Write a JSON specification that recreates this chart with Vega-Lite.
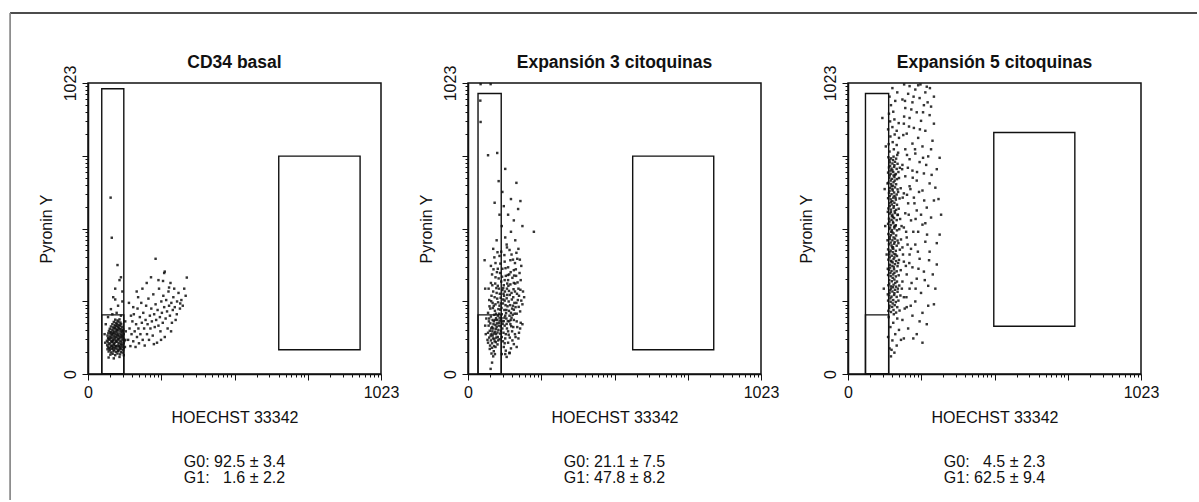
{
  "$schema": "https://vega.github.io/schema/vega-lite/v6.json",
  "padding": {"left": 8, "top": 11, "right": 0, "bottom": 0},
  "background": "white",
  "config": {
    "font": "Liberation Sans",
    "view": {"stroke": "#111", "strokeWidth": 1.5},
    "axis": {"grid": false, "domainColor": "#111", "domainWidth": 1.5, "tickColor": "#111", "tickWidth": 1, "labelFont": "Liberation Sans", "labelFontSize": 16, "labelColor": "#111", "labelPadding": 4, "titleFont": "Liberation Sans", "titleFontSize": 16, "titleFontWeight": "normal", "titleColor": "#111"}
  },
  "datasets": {
    "gates": [
      {"panel": 1, "x1": 48, "x2": 125, "y1": 0, "y2": 1003},
      {"panel": 1, "x1": 48, "x2": 125, "y1": 0, "y2": 208},
      {"panel": 1, "x1": 666, "x2": 950, "y1": 85, "y2": 766},
      {"panel": 2, "x1": 35, "x2": 116, "y1": 0, "y2": 986},
      {"panel": 2, "x1": 35, "x2": 116, "y1": 0, "y2": 208},
      {"panel": 2, "x1": 575, "x2": 858, "y1": 85, "y2": 766},
      {"panel": 3, "x1": 61, "x2": 142, "y1": 0, "y2": 986},
      {"panel": 3, "x1": 61, "x2": 142, "y1": 0, "y2": 208},
      {"panel": 3, "x1": 509, "x2": 792, "y1": 168, "y2": 849}
    ],
    "labels": [
      {"panel": 1, "title": "CD34 basal", "stats": "G0: 92.5 ± 3.4\nG1: \u20071.6 ± 2.2"},
      {"panel": 2, "title": "Expansión 3 citoquinas", "stats": "G0: 21.1 ± 7.5\nG1: 47.8 ± 8.2"},
      {"panel": 3, "title": "Expansión 5 citoquinas", "stats": "G0: \u20074.5 ± 2.3\nG1: 62.5 ± 9.4"}
    ],
    "p1": [
      {"x":78,"y":68},{"x":86,"y":71},{"x":95,"y":66},{"x":103,"y":72},{"x":112,"y":69},
      {"x":72,"y":79},{"x":81,"y":76},{"x":89,"y":80},{"x":98,"y":77},{"x":106,"y":81},{"x":115,"y":78},{"x":121,"y":75},
      {"x":68,"y":87},{"x":76,"y":85},{"x":84,"y":88},{"x":92,"y":84},{"x":100,"y":89},{"x":108,"y":86},{"x":116,"y":88},{"x":123,"y":84},
      {"x":70,"y":95},{"x":78,"y":93},{"x":87,"y":96},{"x":95,"y":92},{"x":103,"y":97},{"x":111,"y":94},{"x":119,"y":96},{"x":125,"y":92},
      {"x":67,"y":101},{"x":74,"y":104},{"x":82,"y":100},{"x":90,"y":103},{"x":98,"y":99},{"x":106,"y":104},{"x":114,"y":101},{"x":121,"y":103},
      {"x":69,"y":111},{"x":77,"y":108},{"x":85,"y":112},{"x":93,"y":109},{"x":101,"y":113},{"x":109,"y":110},{"x":117,"y":112},{"x":125,"y":108},
      {"x":66,"y":117},{"x":73,"y":120},{"x":81,"y":116},{"x":89,"y":121},{"x":97,"y":118},{"x":105,"y":121},{"x":113,"y":117},{"x":120,"y":120},{"x":127,"y":116},
      {"x":70,"y":127},{"x":78,"y":124},{"x":86,"y":128},{"x":94,"y":125},{"x":102,"y":129},{"x":110,"y":126},{"x":118,"y":128},{"x":124,"y":124},
      {"x":68,"y":135},{"x":76,"y":132},{"x":84,"y":136},{"x":92,"y":133},{"x":100,"y":137},{"x":108,"y":134},{"x":116,"y":136},{"x":122,"y":132},
      {"x":71,"y":143},{"x":79,"y":140},{"x":87,"y":144},{"x":95,"y":141},{"x":103,"y":145},{"x":111,"y":142},{"x":119,"y":144},{"x":125,"y":140},
      {"x":73,"y":151},{"x":81,"y":148},{"x":89,"y":152},{"x":97,"y":149},{"x":105,"y":153},{"x":113,"y":150},{"x":121,"y":152},
      {"x":76,"y":159},{"x":84,"y":156},{"x":92,"y":160},{"x":100,"y":157},{"x":108,"y":161},{"x":116,"y":158},{"x":123,"y":156},
      {"x":80,"y":167},{"x":88,"y":164},{"x":96,"y":168},{"x":104,"y":165},{"x":112,"y":169},{"x":119,"y":166},
      {"x":85,"y":175},{"x":93,"y":172},{"x":101,"y":176},{"x":109,"y":173},{"x":116,"y":176},
      {"x":90,"y":183},{"x":98,"y":180},{"x":106,"y":184},{"x":113,"y":181},
      {"x":95,"y":191},{"x":103,"y":188},{"x":110,"y":192},
      {"x":74,"y":90},{"x":82,"y":98},{"x":90,"y":106},{"x":98,"y":114},{"x":106,"y":122},{"x":114,"y":130},{"x":88,"y":118},{"x":96,"y":130},{"x":104,"y":138},{"x":80,"y":128},{"x":92,"y":146},{"x":100,"y":154},{"x":84,"y":114},{"x":108,"y":98},{"x":116,"y":106},{"x":72,"y":124},{"x":120,"y":136},{"x":86,"y":140},{"x":110,"y":158},{"x":94,"y":162},{"x":78,"y":146},{"x":102,"y":170},{"x":118,"y":150},{"x":96,"y":98},{"x":88,"y":90},{"x":104,"y":82},{"x":112,"y":90},
      {"x":60,"y":110},{"x":58,"y":140},{"x":62,"y":175},{"x":70,"y":200},{"x":85,"y":210},{"x":100,"y":215},{"x":115,"y":205},{"x":130,"y":185},{"x":132,"y":150},{"x":130,"y":120},{"x":129,"y":95},{"x":72,"y":58},{"x":90,"y":55},{"x":110,"y":60},{"x":125,"y":66},{"x":80,"y":228},{"x":105,"y":240},{"x":95,"y":262},{"x":120,"y":255},
      {"x":140,"y":120},{"x":145,"y":160},{"x":148,"y":98},{"x":152,"y":140},{"x":155,"y":185},{"x":158,"y":115},{"x":160,"y":210},{"x":163,"y":150},{"x":166,"y":95},{"x":168,"y":175},{"x":171,"y":130},{"x":173,"y":230},{"x":176,"y":160},{"x":178,"y":108},{"x":181,"y":200},{"x":183,"y":140},{"x":186,"y":250},{"x":188,"y":180},{"x":191,"y":120},{"x":193,"y":215},{"x":196,"y":160},{"x":198,"y":100},{"x":201,"y":190},{"x":203,"y":240},{"x":206,"y":140},{"x":208,"y":175},{"x":211,"y":265},{"x":213,"y":120},{"x":216,"y":205},{"x":218,"y":160},{"x":221,"y":230},{"x":223,"y":185},{"x":226,"y":135},{"x":228,"y":280},{"x":231,"y":210},{"x":233,"y":165},{"x":236,"y":245},{"x":238,"y":190},{"x":241,"y":110},{"x":243,"y":225},{"x":246,"y":170},{"x":248,"y":300},{"x":251,"y":200},{"x":253,"y":150},{"x":256,"y":255},{"x":258,"y":215},{"x":261,"y":180},{"x":263,"y":275},{"x":266,"y":235},{"x":268,"y":130},{"x":271,"y":195},{"x":273,"y":260},{"x":276,"y":220},{"x":278,"y":160},{"x":281,"y":290},{"x":283,"y":240},{"x":286,"y":205},{"x":288,"y":320},{"x":291,"y":250},{"x":293,"y":180},{"x":296,"y":225},{"x":298,"y":270},{"x":301,"y":300},{"x":303,"y":235},{"x":306,"y":190},{"x":311,"y":255},{"x":316,"y":285},{"x":321,"y":230},{"x":326,"y":260},{"x":331,"y":240},{"x":336,"y":300},{"x":341,"y":275},{"x":246,"y":330},{"x":266,"y":355},{"x":236,"y":405},{"x":262,"y":327},{"x":283,"y":304},{"x":322,"y":248},{"x":345,"y":339},{"x":268,"y":360},{"x":190,"y":300},{"x":205,"y":320},{"x":175,"y":270},{"x":220,"y":340},{"x":158,"y":235},{"x":150,"y":205},{"x":143,"y":250},{"x":170,"y":290},{"x":255,"y":120},{"x":230,"y":105},{"x":290,"y":150},{"x":310,"y":210},
      {"x":79,"y":620},{"x":83,"y":479},{"x":103,"y":383},{"x":110,"y":330},{"x":95,"y":300},{"x":120,"y":290},{"x":88,"y":270},{"x":115,"y":340}
    ],
    "p2": [
      {"x":68,"y":120},{"x":74,"y":128},{"x":80,"y":118},{"x":86,"y":135},{"x":92,"y":124},{"x":98,"y":140},{"x":104,"y":130},{"x":110,"y":122},{"x":70,"y":145},{"x":76,"y":152},{"x":82,"y":140},{"x":88,"y":160},{"x":94,"y":148},{"x":100,"y":165},{"x":106,"y":155},{"x":112,"y":142},{"x":72,"y":170},{"x":78,"y":178},{"x":84,"y":165},{"x":90,"y":185},{"x":96,"y":172},{"x":102,"y":190},{"x":108,"y":180},{"x":114,"y":168},{"x":74,"y":195},{"x":80,"y":202},{"x":86,"y":190},{"x":92,"y":208},{"x":98,"y":196},{"x":104,"y":205},{"x":110,"y":198},{"x":70,"y":110},{"x":77,"y":100},{"x":84,"y":108},{"x":91,"y":98},{"x":97,"y":112},{"x":103,"y":104},{"x":76,"y":88},{"x":84,"y":92},{"x":90,"y":80},{"x":96,"y":95},{"x":82,"y":72},{"x":88,"y":62},{"x":94,"y":70},{"x":79,"y":135},{"x":85,"y":150},{"x":91,"y":142},{"x":97,"y":158},{"x":103,"y":146},{"x":89,"y":175},{"x":95,"y":190},{"x":101,"y":178},{"x":87,"y":125},{"x":93,"y":115},{"x":99,"y":128},{"x":105,"y":118},{"x":81,"y":160},{"x":107,"y":170},{"x":73,"y":185},{"x":111,"y":188},
      {"x":118,"y":70},{"x":125,"y":95},{"x":132,"y":82},{"x":140,"y":110},{"x":150,"y":90},{"x":160,"y":105},{"x":122,"y":115},{"x":135,"y":60},{"x":145,"y":75},{"x":170,"y":95},{"x":128,"y":108},{"x":155,"y":118},
      {"x":118,"y":130},{"x":124,"y":145},{"x":130,"y":125},{"x":136,"y":160},{"x":142,"y":138},{"x":148,"y":175},{"x":154,"y":150},{"x":160,"y":190},{"x":166,"y":130},{"x":172,"y":165},{"x":178,"y":145},{"x":184,"y":180},{"x":120,"y":185},{"x":128,"y":170},{"x":134,"y":195},{"x":140,"y":150},{"x":146,"y":128},{"x":152,"y":198},{"x":158,"y":165},{"x":164,"y":140},{"x":170,"y":185},{"x":176,"y":125},{"x":182,"y":160},{"x":190,"y":175},{"x":62,"y":140},{"x":60,"y":170},{"x":64,"y":195},{"x":120,"y":160},{"x":132,"y":140},{"x":144,"y":185},
      {"x":70,"y":215},{"x":78,"y":230},{"x":86,"y":250},{"x":94,"y":222},{"x":102,"y":265},{"x":110,"y":240},{"x":118,"y":210},{"x":126,"y":275},{"x":134,"y":225},{"x":142,"y":255},{"x":150,"y":215},{"x":158,"y":270},{"x":166,"y":235},{"x":174,"y":260},{"x":182,"y":220},{"x":190,"y":245},{"x":196,"y":270},{"x":74,"y":260},{"x":82,"y":275},{"x":90,"y":240},{"x":98,"y":212},{"x":106,"y":228},{"x":114,"y":268},{"x":122,"y":248},{"x":130,"y":205},{"x":138,"y":238},{"x":146,"y":278},{"x":154,"y":230},{"x":162,"y":250},{"x":170,"y":212},{"x":178,"y":275},{"x":186,"y":258},{"x":96,"y":245},{"x":128,"y":258},{"x":160,"y":226},
      {"x":72,"y":300},{"x":80,"y":320},{"x":88,"y":290},{"x":96,"y":340},{"x":104,"y":310},{"x":112,"y":355},{"x":120,"y":295},{"x":128,"y":330},{"x":136,"y":300},{"x":144,"y":350},{"x":152,"y":285},{"x":160,"y":320},{"x":168,"y":345},{"x":176,"y":300},{"x":184,"y":330},{"x":192,"y":290},{"x":84,"y":350},{"x":100,"y":285},{"x":116,"y":325},{"x":132,"y":345},{"x":148,"y":315},{"x":164,"y":290},{"x":180,"y":355},{"x":108,"y":300},{"x":140,"y":330},{"x":124,"y":282},
      {"x":80,"y":380},{"x":92,"y":410},{"x":104,"y":370},{"x":116,"y":430},{"x":128,"y":395},{"x":140,"y":375},{"x":152,"y":420},{"x":164,"y":390},{"x":176,"y":440},{"x":120,"y":370},{"x":136,"y":445},{"x":96,"y":390},{"x":148,"y":400},{"x":110,"y":415},{"x":172,"y":405},{"x":186,"y":380},{"x":88,"y":440},{"x":160,"y":365},
      {"x":115,"y":152},{"x":121,"y":176},{"x":127,"y":198},{"x":133,"y":214},{"x":139,"y":186},{"x":145,"y":205},{"x":151,"y":168},{"x":157,"y":240},{"x":163,"y":212},{"x":169,"y":250},{"x":117,"y":232},{"x":123,"y":262},{"x":129,"y":290},{"x":135,"y":266},{"x":141,"y":310},{"x":147,"y":242},{"x":153,"y":262},{"x":159,"y":298},{"x":165,"y":318},{"x":171,"y":282},{"x":177,"y":236},{"x":183,"y":296},{"x":111,"y":282},{"x":105,"y":252},{"x":99,"y":302},{"x":93,"y":270},{"x":87,"y":232},{"x":81,"y":256},{"x":75,"y":238},{"x":119,"y":342},{"x":125,"y":312},{"x":131,"y":372},{"x":137,"y":318},{"x":143,"y":292},{"x":149,"y":358},{"x":155,"y":338},{"x":161,"y":346},{"x":167,"y":368},{"x":173,"y":322},{"x":113,"y":388},{"x":107,"y":336},{"x":101,"y":358},{"x":95,"y":318},{"x":89,"y":368},{"x":85,"y":312},{"x":109,"y":212},{"x":113,"y":226},{"x":117,"y":196},{"x":131,"y":242},{"x":137,"y":278},{"x":127,"y":225},{"x":143,"y":222},{"x":149,"y":190},{"x":156,"y":208},{"x":125,"y":186},{"x":135,"y":176},{"x":115,"y":248},{"x":123,"y":302},{"x":139,"y":348},{"x":157,"y":402},{"x":127,"y":418},{"x":145,"y":436},{"x":103,"y":428},{"x":169,"y":426},{"x":181,"y":402},
      {"x":100,"y":470},{"x":130,"y":480},{"x":150,"y":500},{"x":230,"y":500},{"x":118,"y":520},{"x":160,"y":540},{"x":140,"y":560},{"x":175,"y":580},{"x":93,"y":602},{"x":183,"y":608},{"x":107,"y":678},{"x":169,"y":672},{"x":130,"y":721},{"x":120,"y":640},{"x":150,"y":615},{"x":110,"y":560},{"x":165,"y":470},{"x":135,"y":455},{"x":190,"y":520},{"x":125,"y":590},
      {"x":44,"y":1019},{"x":79,"y":1019},{"x":43,"y":961},{"x":44,"y":886},{"x":70,"y":769},{"x":102,"y":777},{"x":60,"y":300},{"x":58,"y":400},{"x":79,"y":18},{"x":84,"y":40},{"x":130,"y":70},{"x":145,"y":73}
    ],
    "p3": [
      {"x":150,"y":62},{"x":162,"y":75},{"x":145,"y":90},{"x":170,"y":100},{"x":155,"y":118},{"x":140,"y":130},{"x":165,"y":140},{"x":178,"y":155},{"x":148,"y":165},{"x":158,"y":180},{"x":172,"y":195},{"x":142,"y":200},{"x":160,"y":210},{"x":185,"y":120},{"x":152,"y":85},
      {"x":141,"y":222},{"x":150,"y":218},{"x":159,"y":225},{"x":168,"y":216},{"x":180,"y":223},
      {"x":145,"y":240},{"x":154,"y":236},{"x":163,"y":242},{"x":172,"y":235},
      {"x":140,"y":258},{"x":149,"y":254},{"x":158,"y":260},{"x":167,"y":253},{"x":176,"y":258},
      {"x":143,"y":276},{"x":152,"y":272},{"x":161,"y":278},{"x":170,"y":271},{"x":183,"y":276},
      {"x":146,"y":294},{"x":155,"y":290},{"x":164,"y":296},{"x":173,"y":289},
      {"x":141,"y":312},{"x":150,"y":308},{"x":159,"y":314},{"x":168,"y":307},{"x":179,"y":311},
      {"x":144,"y":330},{"x":153,"y":326},{"x":162,"y":332},{"x":171,"y":325},
      {"x":140,"y":348},{"x":149,"y":344},{"x":158,"y":350},{"x":167,"y":343},{"x":177,"y":347},
      {"x":143,"y":366},{"x":152,"y":362},{"x":161,"y":368},{"x":170,"y":361},{"x":184,"y":365},
      {"x":146,"y":384},{"x":155,"y":380},{"x":164,"y":386},{"x":173,"y":379},
      {"x":141,"y":402},{"x":150,"y":398},{"x":159,"y":404},{"x":168,"y":397},{"x":178,"y":401},
      {"x":144,"y":420},{"x":153,"y":416},{"x":162,"y":422},{"x":171,"y":415},
      {"x":140,"y":438},{"x":149,"y":434},{"x":158,"y":440},{"x":167,"y":433},{"x":181,"y":437},
      {"x":143,"y":456},{"x":152,"y":452},{"x":161,"y":458},{"x":170,"y":451},
      {"x":146,"y":474},{"x":155,"y":470},{"x":164,"y":476},{"x":173,"y":469},{"x":185,"y":473},
      {"x":141,"y":492},{"x":150,"y":488},{"x":159,"y":494},{"x":168,"y":487},
      {"x":144,"y":510},{"x":153,"y":506},{"x":162,"y":512},{"x":171,"y":505},{"x":179,"y":509},
      {"x":140,"y":528},{"x":149,"y":524},{"x":158,"y":530},{"x":167,"y":523},
      {"x":143,"y":546},{"x":152,"y":542},{"x":161,"y":548},{"x":170,"y":541},{"x":182,"y":545},
      {"x":146,"y":564},{"x":155,"y":560},{"x":164,"y":566},{"x":173,"y":559},
      {"x":141,"y":582},{"x":150,"y":578},{"x":159,"y":584},{"x":168,"y":577},{"x":177,"y":581},
      {"x":144,"y":600},{"x":153,"y":596},{"x":162,"y":602},{"x":171,"y":595},
      {"x":140,"y":618},{"x":149,"y":614},{"x":158,"y":620},{"x":167,"y":613},{"x":180,"y":617},
      {"x":143,"y":636},{"x":152,"y":632},{"x":161,"y":638},{"x":170,"y":631},
      {"x":146,"y":654},{"x":155,"y":650},{"x":164,"y":656},{"x":173,"y":649},{"x":184,"y":653},
      {"x":141,"y":672},{"x":150,"y":668},{"x":159,"y":674},{"x":168,"y":667},
      {"x":144,"y":690},{"x":153,"y":686},{"x":162,"y":692},{"x":171,"y":685},{"x":178,"y":689},
      {"x":140,"y":708},{"x":149,"y":704},{"x":158,"y":710},{"x":167,"y":703},
      {"x":143,"y":726},{"x":152,"y":722},{"x":161,"y":728},{"x":170,"y":721},{"x":181,"y":725},
      {"x":146,"y":744},{"x":155,"y":740},{"x":164,"y":746},{"x":173,"y":739},
      {"x":141,"y":762},{"x":150,"y":758},{"x":159,"y":764},{"x":168,"y":757},
      {"x":145,"y":782},{"x":160,"y":790},{"x":175,"y":778},{"x":142,"y":808},{"x":156,"y":815},{"x":170,"y":805},{"x":148,"y":835},{"x":163,"y":842},{"x":178,"y":830},{"x":140,"y":860},{"x":155,"y":868},{"x":170,"y":855},{"x":147,"y":888},{"x":162,"y":895},{"x":177,"y":882},{"x":143,"y":915},{"x":158,"y":922},{"x":150,"y":945},{"x":165,"y":960},{"x":145,"y":975},{"x":172,"y":990},{"x":155,"y":1005},
      {"x":145,"y":285},{"x":157,"y":305},{"x":148,"y":355},{"x":160,"y":375},{"x":146,"y":410},{"x":156,"y":428},{"x":149,"y":462},{"x":159,"y":480},{"x":147,"y":515},{"x":157,"y":535},{"x":150,"y":570},{"x":160,"y":590},{"x":146,"y":625},{"x":156,"y":645},{"x":149,"y":680},{"x":159,"y":698},{"x":147,"y":732},{"x":157,"y":752},{"x":152,"y":395},{"x":154,"y":445},{"x":151,"y":500},{"x":153,"y":555},{"x":150,"y":605},{"x":152,"y":660},{"x":148,"y":715},{"x":165,"y":320},{"x":166,"y":420},{"x":165,"y":520},{"x":166,"y":620},{"x":164,"y":700},
      {"x":144,"y":232},{"x":156,"y":248},{"x":148,"y":266},{"x":162,"y":284},{"x":150,"y":300},{"x":144,"y":318},{"x":156,"y":338},{"x":162,"y":356},{"x":147,"y":374},{"x":156,"y":392},{"x":162,"y":410},{"x":145,"y":428},{"x":157,"y":446},{"x":163,"y":464},{"x":146,"y":482},{"x":155,"y":498},{"x":161,"y":518},{"x":145,"y":536},{"x":157,"y":552},{"x":163,"y":572},{"x":146,"y":590},{"x":155,"y":608},{"x":162,"y":626},{"x":145,"y":644},{"x":157,"y":662},{"x":163,"y":680},{"x":146,"y":698},{"x":155,"y":716},{"x":162,"y":734},{"x":145,"y":752},{"x":174,"y":300},{"x":175,"y":390},{"x":176,"y":460},{"x":174,"y":560},{"x":175,"y":640},{"x":176,"y":710},{"x":172,"y":770},{"x":139,"y":570},{"x":138,"y":470},{"x":138,"y":670},{"x":139,"y":370},{"x":139,"y":280},
      {"x":195,"y":125},{"x":240,"y":140},{"x":210,"y":160},{"x":275,"y":175},{"x":190,"y":190},{"x":225,"y":205},{"x":260,"y":215},{"x":205,"y":235},{"x":300,"y":245},{"x":235,"y":255},{"x":195,"y":270},{"x":255,"y":285},{"x":215,"y":300},{"x":280,"y":310},{"x":190,"y":325},{"x":240,"y":335},{"x":205,"y":350},{"x":265,"y":360},{"x":225,"y":375},{"x":310,"y":385},{"x":195,"y":395},{"x":250,"y":405},{"x":215,"y":420},{"x":285,"y":430},{"x":190,"y":445},{"x":235,"y":455},{"x":270,"y":465},{"x":205,"y":480},{"x":320,"y":490},{"x":245,"y":500},{"x":195,"y":515},{"x":260,"y":525},{"x":220,"y":540},{"x":290,"y":550},{"x":200,"y":565},{"x":240,"y":575},{"x":275,"y":585},{"x":210,"y":600},{"x":300,"y":610},{"x":230,"y":620},{"x":195,"y":635},{"x":260,"y":645},{"x":215,"y":660},{"x":285,"y":670},{"x":240,"y":680},{"x":200,"y":695},{"x":265,"y":705},{"x":225,"y":715},{"x":310,"y":720},{"x":190,"y":735},{"x":250,"y":745},{"x":215,"y":755},{"x":280,"y":765},{"x":235,"y":775},{"x":200,"y":790},{"x":260,"y":800},{"x":225,"y":810},{"x":295,"y":820},{"x":245,"y":830},{"x":205,"y":845},{"x":270,"y":855},{"x":230,"y":865},{"x":195,"y":880},{"x":255,"y":890},{"x":215,"y":900},{"x":285,"y":910},{"x":240,"y":920},{"x":200,"y":935},{"x":265,"y":945},{"x":225,"y":955},{"x":250,"y":970},{"x":210,"y":985},{"x":235,"y":1000},{"x":270,"y":990},{"x":190,"y":965},{"x":290,"y":940},{"x":300,"y":880},{"x":320,"y":760},{"x":305,"y":655},{"x":325,"y":560},{"x":310,"y":460},{"x":296,"y":350},{"x":280,"y":240},{"x":250,"y":185},{"x":228,"y":125},{"x":260,"y":110},{"x":305,"y":300},{"x":316,"y":615},{"x":290,"y":790},{"x":300,"y":975},{"x":275,"y":1010},{"x":245,"y":1015},{"x":215,"y":1012},
      {"x":188,"y":300},{"x":192,"y":420},{"x":187,"y":520},{"x":191,"y":620},{"x":189,"y":720},{"x":193,"y":840},{"x":198,"y":230},{"x":202,"y":380},{"x":208,"y":455},{"x":212,"y":560},{"x":218,"y":650},{"x":206,"y":770},{"x":213,"y":870},{"x":199,"y":960},{"x":222,"y":320},{"x":228,"y":500},{"x":232,"y":600},{"x":220,"y":440},{"x":226,"y":690},{"x":234,"y":790},{"x":219,"y":240},{"x":246,"y":370},{"x":255,"y":560},{"x":262,"y":760},{"x":248,"y":640},{"x":270,"y":530},{"x":283,"y":400},{"x":292,"y":700},
      {"x":204,"y":270},{"x":236,"y":300},{"x":268,"y":330},{"x":214,"y":390},{"x":244,"y":430},{"x":276,"y":490},{"x":203,"y":500},{"x":236,"y":545},{"x":266,"y":610},{"x":206,"y":630},{"x":241,"y":710},{"x":273,"y":735},{"x":209,"y":725},{"x":251,"y":860},{"x":221,"y":930},{"x":262,"y":920},{"x":196,"y":905},{"x":278,"y":955},{"x":229,"y":975},{"x":253,"y":1018},{"x":196,"y":1018},{"x":286,"y":1005},
      {"x":125,"y":300},{"x":130,"y":520},{"x":128,"y":650},{"x":132,"y":800},{"x":135,"y":420},{"x":120,"y":900}
    ]
  },
  "spacing": 87,
  "bounds": "flush",
  "hconcat": [
    {
      "width": 293, "height": 291,
      "layer": [
        {
          "data": {"values": [{}]},
          "mark": {"type": "rule", "color": "#111", "strokeWidth": 1.5},
          "encoding": {
            "x": {"datum": -272, "type": "quantitative", "scale": {"domain": [0, 1023], "nice": false, "zero": false}},
            "x2": {"datum": 3872},
            "y": {"datum": 1269, "type": "quantitative", "scale": {"domain": [0, 1023], "nice": false, "zero": false}}
          }
        },
        {
          "data": {"values": [{}]},
          "mark": {"type": "rule", "color": "#808080", "strokeWidth": 1.6},
          "encoding": {
            "x": {"datum": -272, "type": "quantitative", "scale": {"domain": [0, 1023], "nice": false, "zero": false}},
            "y": {"datum": 1269, "type": "quantitative", "scale": {"domain": [0, 1023], "nice": false, "zero": false}},
            "y2": {"datum": -443}
          }
        },
        {
          "data": {"name": "p1"},
          "mark": {"type": "square", "size": 6, "color": "#111", "opacity": 0.85},
          "encoding": {
            "x": {"field": "x", "type": "quantitative", "scale": {"domain": [0, 1023], "nice": false, "zero": false},
              "axis": {"title": "HOECHST 33342", "titlePadding": 9, "labelOverlap": false, "labelFlush": false, "labelBound": false, "tickCount": 1000,
                "values": [0,77,122,154,178.8,199,216.1,231,244.1,255.75,332.7,377.8,409.7,434.5,454.8,471.9,486.7,499.8,511.5,588.5,633.5,665.5,690.3,710.5,727.6,742.5,755.6,767.25,844.2,889.3,921.2,946,966.3,983.4,998.2,1011.3,1023],
                "labelExpr": "datum.value == 0 ? '0' : datum.value == 1023 ? '1023' : ''",
                "tickSize": {"condition": {"test": "datum.value % 255.75 === 0", "value": 6}, "value": 3}}},
            "y": {"field": "y", "type": "quantitative", "scale": {"domain": [0, 1023], "nice": false, "zero": false},
              "axis": {"title": "Pyronin Y", "titlePadding": 8, "labelAngle": -90, "labelAlign": "center", "labelBaseline": "bottom", "labelOverlap": false, "labelFlush": false, "labelBound": false, "tickCount": 1000,
                "values": [0,77,122,154,178.8,199,216.1,231,244.1,255.75,332.7,377.8,409.7,434.5,454.8,471.9,486.7,499.8,511.5,588.5,633.5,665.5,690.3,710.5,727.6,742.5,755.6,767.25,844.2,889.3,921.2,946,966.3,983.4,998.2,1011.3,1023],
                "labelExpr": "datum.value == 0 ? '0' : datum.value == 1023 ? '1023' : ''",
                "tickSize": {"condition": {"test": "datum.value % 255.75 === 0", "value": 6}, "value": 3}}}
          }
        },
        {
          "data": {"name": "gates"},
          "transform": [{"filter": "datum.panel == 1"}],
          "mark": {"type": "rect", "fillOpacity": 0, "stroke": "#111", "strokeWidth": 1.4},
          "encoding": {
            "x": {"field": "x1", "type": "quantitative", "scale": {"domain": [0, 1023], "nice": false, "zero": false}},
            "x2": {"field": "x2"},
            "y": {"field": "y1", "type": "quantitative", "scale": {"domain": [0, 1023], "nice": false, "zero": false}},
            "y2": {"field": "y2"}
          }
        },
        {
          "data": {"name": "labels"},
          "transform": [{"filter": "datum.panel == 1"}],
          "mark": {"type": "text", "font": "Liberation Sans", "fontSize": 17.5, "fontWeight": "bold", "color": "#111", "align": "center", "baseline": "alphabetic"},
          "encoding": {
            "text": {"field": "title"},
            "x": {"datum": 511.5, "type": "quantitative", "scale": {"domain": [0, 1023], "nice": false, "zero": false}},
            "y": {"datum": 1076, "type": "quantitative", "scale": {"domain": [0, 1023], "nice": false, "zero": false}}
          }
        },
        {
          "data": {"name": "labels"},
          "transform": [{"filter": "datum.panel == 1"}],
          "mark": {"type": "text", "font": "Liberation Sans", "fontSize": 16, "color": "#111", "align": "center", "baseline": "top", "lineBreak": "\n", "lineHeight": 16},
          "encoding": {
            "text": {"field": "stats"},
            "x": {"datum": 511.5, "type": "quantitative", "scale": {"domain": [0, 1023], "nice": false, "zero": false}},
            "y": {"datum": -281, "type": "quantitative", "scale": {"domain": [0, 1023], "nice": false, "zero": false}}
          }
        }
      ]
    },
    {
      "width": 293, "height": 291,
      "layer": [
        {
          "data": {"name": "p2"},
          "mark": {"type": "square", "size": 6, "color": "#111", "opacity": 0.85},
          "encoding": {
            "x": {"field": "x", "type": "quantitative", "scale": {"domain": [0, 1023], "nice": false, "zero": false},
              "axis": {"title": "HOECHST 33342", "titlePadding": 9, "labelOverlap": false, "labelFlush": false, "labelBound": false, "tickCount": 1000,
                "values": [0,77,122,154,178.8,199,216.1,231,244.1,255.75,332.7,377.8,409.7,434.5,454.8,471.9,486.7,499.8,511.5,588.5,633.5,665.5,690.3,710.5,727.6,742.5,755.6,767.25,844.2,889.3,921.2,946,966.3,983.4,998.2,1011.3,1023],
                "labelExpr": "datum.value == 0 ? '0' : datum.value == 1023 ? '1023' : ''",
                "tickSize": {"condition": {"test": "datum.value % 255.75 === 0", "value": 6}, "value": 3}}},
            "y": {"field": "y", "type": "quantitative", "scale": {"domain": [0, 1023], "nice": false, "zero": false},
              "axis": {"title": "Pyronin Y", "titlePadding": 8, "labelAngle": -90, "labelAlign": "center", "labelBaseline": "bottom", "labelOverlap": false, "labelFlush": false, "labelBound": false, "tickCount": 1000,
                "values": [0,77,122,154,178.8,199,216.1,231,244.1,255.75,332.7,377.8,409.7,434.5,454.8,471.9,486.7,499.8,511.5,588.5,633.5,665.5,690.3,710.5,727.6,742.5,755.6,767.25,844.2,889.3,921.2,946,966.3,983.4,998.2,1011.3,1023],
                "labelExpr": "datum.value == 0 ? '0' : datum.value == 1023 ? '1023' : ''",
                "tickSize": {"condition": {"test": "datum.value % 255.75 === 0", "value": 6}, "value": 3}}}
          }
        },
        {
          "data": {"name": "gates"},
          "transform": [{"filter": "datum.panel == 2"}],
          "mark": {"type": "rect", "fillOpacity": 0, "stroke": "#111", "strokeWidth": 1.4},
          "encoding": {
            "x": {"field": "x1", "type": "quantitative", "scale": {"domain": [0, 1023], "nice": false, "zero": false}},
            "x2": {"field": "x2"},
            "y": {"field": "y1", "type": "quantitative", "scale": {"domain": [0, 1023], "nice": false, "zero": false}},
            "y2": {"field": "y2"}
          }
        },
        {
          "data": {"name": "labels"},
          "transform": [{"filter": "datum.panel == 2"}],
          "mark": {"type": "text", "font": "Liberation Sans", "fontSize": 17.5, "fontWeight": "bold", "color": "#111", "align": "center", "baseline": "alphabetic"},
          "encoding": {
            "text": {"field": "title"},
            "x": {"datum": 511.5, "type": "quantitative", "scale": {"domain": [0, 1023], "nice": false, "zero": false}},
            "y": {"datum": 1076, "type": "quantitative", "scale": {"domain": [0, 1023], "nice": false, "zero": false}}
          }
        },
        {
          "data": {"name": "labels"},
          "transform": [{"filter": "datum.panel == 2"}],
          "mark": {"type": "text", "font": "Liberation Sans", "fontSize": 16, "color": "#111", "align": "center", "baseline": "top", "lineBreak": "\n", "lineHeight": 16},
          "encoding": {
            "text": {"field": "stats"},
            "x": {"datum": 511.5, "type": "quantitative", "scale": {"domain": [0, 1023], "nice": false, "zero": false}},
            "y": {"datum": -281, "type": "quantitative", "scale": {"domain": [0, 1023], "nice": false, "zero": false}}
          }
        }
      ]
    },
    {
      "width": 293, "height": 291,
      "layer": [
        {
          "data": {"name": "p3"},
          "mark": {"type": "square", "size": 6, "color": "#111", "opacity": 0.85},
          "encoding": {
            "x": {"field": "x", "type": "quantitative", "scale": {"domain": [0, 1023], "nice": false, "zero": false},
              "axis": {"title": "HOECHST 33342", "titlePadding": 9, "labelOverlap": false, "labelFlush": false, "labelBound": false, "tickCount": 1000,
                "values": [0,77,122,154,178.8,199,216.1,231,244.1,255.75,332.7,377.8,409.7,434.5,454.8,471.9,486.7,499.8,511.5,588.5,633.5,665.5,690.3,710.5,727.6,742.5,755.6,767.25,844.2,889.3,921.2,946,966.3,983.4,998.2,1011.3,1023],
                "labelExpr": "datum.value == 0 ? '0' : datum.value == 1023 ? '1023' : ''",
                "tickSize": {"condition": {"test": "datum.value % 255.75 === 0", "value": 6}, "value": 3}}},
            "y": {"field": "y", "type": "quantitative", "scale": {"domain": [0, 1023], "nice": false, "zero": false},
              "axis": {"title": "Pyronin Y", "titlePadding": 8, "labelAngle": -90, "labelAlign": "center", "labelBaseline": "bottom", "labelOverlap": false, "labelFlush": false, "labelBound": false, "tickCount": 1000,
                "values": [0,77,122,154,178.8,199,216.1,231,244.1,255.75,332.7,377.8,409.7,434.5,454.8,471.9,486.7,499.8,511.5,588.5,633.5,665.5,690.3,710.5,727.6,742.5,755.6,767.25,844.2,889.3,921.2,946,966.3,983.4,998.2,1011.3,1023],
                "labelExpr": "datum.value == 0 ? '0' : datum.value == 1023 ? '1023' : ''",
                "tickSize": {"condition": {"test": "datum.value % 255.75 === 0", "value": 6}, "value": 3}}}
          }
        },
        {
          "data": {"name": "gates"},
          "transform": [{"filter": "datum.panel == 3"}],
          "mark": {"type": "rect", "fillOpacity": 0, "stroke": "#111", "strokeWidth": 1.4},
          "encoding": {
            "x": {"field": "x1", "type": "quantitative", "scale": {"domain": [0, 1023], "nice": false, "zero": false}},
            "x2": {"field": "x2"},
            "y": {"field": "y1", "type": "quantitative", "scale": {"domain": [0, 1023], "nice": false, "zero": false}},
            "y2": {"field": "y2"}
          }
        },
        {
          "data": {"name": "labels"},
          "transform": [{"filter": "datum.panel == 3"}],
          "mark": {"type": "text", "font": "Liberation Sans", "fontSize": 17.5, "fontWeight": "bold", "color": "#111", "align": "center", "baseline": "alphabetic"},
          "encoding": {
            "text": {"field": "title"},
            "x": {"datum": 511.5, "type": "quantitative", "scale": {"domain": [0, 1023], "nice": false, "zero": false}},
            "y": {"datum": 1076, "type": "quantitative", "scale": {"domain": [0, 1023], "nice": false, "zero": false}}
          }
        },
        {
          "data": {"name": "labels"},
          "transform": [{"filter": "datum.panel == 3"}],
          "mark": {"type": "text", "font": "Liberation Sans", "fontSize": 16, "color": "#111", "align": "center", "baseline": "top", "lineBreak": "\n", "lineHeight": 16},
          "encoding": {
            "text": {"field": "stats"},
            "x": {"datum": 511.5, "type": "quantitative", "scale": {"domain": [0, 1023], "nice": false, "zero": false}},
            "y": {"datum": -281, "type": "quantitative", "scale": {"domain": [0, 1023], "nice": false, "zero": false}}
          }
        }
      ]
    }
  ]
}
